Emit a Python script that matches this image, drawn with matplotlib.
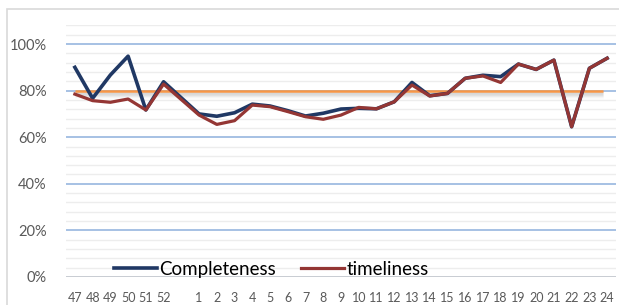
import numpy as np
import matplotlib.pyplot as plt
from matplotlib.patches import Rectangle

# week labels; the empty one is the blank slot between the two years
weeks = ["47", "48", "49", "50", "51", "52", "",
         "1", "2", "3", "4", "5", "6", "7", "8", "9", "10", "11", "12",
         "13", "14", "15", "16", "17", "18", "19", "20", "21", "22", "23", "24"]

completeness = [0.900, 0.767, 0.867, 0.948, 0.717, 0.838, np.nan,
                0.700, 0.690, 0.705, 0.742, 0.734, 0.714, 0.691, 0.703, 0.721,
                0.724, 0.722, 0.752, 0.835, 0.778, 0.788, 0.853, 0.866, 0.860,
                0.914, 0.891, 0.931, 0.645, 0.896, 0.939]

timeliness = [0.785, 0.757, 0.750, 0.764, 0.717, 0.828, np.nan,
              0.695, 0.655, 0.671, 0.738, 0.731, 0.710, 0.688, 0.677, 0.695,
              0.728, 0.722, 0.752, 0.824, 0.777, 0.788, 0.853, 0.863, 0.835,
              0.914, 0.891, 0.931, 0.645, 0.896, 0.939]

target = 0.80

BLUE = "#203864"
RED = "#943634"
ORANGE = "#F79646"

plt.rcParams['font.family'] = ['Lato', 'DejaVu Sans']

fig = plt.figure(figsize=(6.19, 3.05), dpi=100)
ax = fig.add_axes([66 / 619, 28 / 305, 550 / 619, 251.6 / 305])

x = np.arange(len(weeks))
comp = np.array(completeness)
time_ = np.array(timeliness)
ok = ~np.isnan(comp)

# target line with a soft shadow underneath
for k, a in zip(range(1, 7), [0.12, 0.11, 0.09, 0.07, 0.04, 0.02]):
    ax.plot([x[0], x[-1] - 0.25], [target - k * 0.0043] * 2, color="#808080",
            lw=2.5, alpha=a, solid_capstyle="butt", zorder=2)
ax.plot([x[0], x[-1] - 0.25], [target, target], color=ORANGE, lw=1.8,
        solid_capstyle="butt", zorder=3)

ax.plot(x[ok], comp[ok], color=BLUE, lw=2.6, label="Completeness", zorder=4)
ax.plot(x[ok], time_[ok], color=RED, lw=2.3, label="timeliness", zorder=5)

ax.set_xlim(-0.5, len(weeks) - 0.5)
ax.set_ylim(0, 1.08)

ax.set_yticks(np.arange(0, 1.01, 0.2))
ax.set_yticklabels([f"{int(round(v * 100))}%" for v in np.arange(0, 1.01, 0.2)])
ax.set_yticks(np.arange(0.04, 1.081, 0.04), minor=True)
ax.set_xticks(x)
ax.set_xticklabels(weeks)

ax.grid(axis="y", which="major", color="#8EB0DC", lw=1.1)
ax.grid(axis="y", which="minor", color="#EDEDED", lw=1.0)
ax.set_axisbelow(True)
ax.axhline(0, color="#D0D0D0", lw=1.2, zorder=1)

for s in ax.spines.values():
    s.set_visible(False)
ax.tick_params(axis="both", which="both", length=0)
ax.tick_params(axis="y", labelsize=10.5, labelcolor="#595959", pad=14)
ax.tick_params(axis="x", labelsize=9, labelcolor="#595959", pad=11)

ax.legend(loc="center", bbox_to_anchor=(0.373, 0.03), ncol=2, frameon=False,
          fontsize=13.5, handlelength=2.3, handletextpad=0.15,
          columnspacing=1.3, borderpad=0)

# outer chart border
fig.patches.append(Rectangle((7 / 619, -0.1), 1.2, (305 - 8.5) / 305 + 0.1,
                             transform=fig.transFigure, fill=False,
                             edgecolor="#D9D9D9", lw=1.2))

fig.savefig("out.png", dpi=100)
